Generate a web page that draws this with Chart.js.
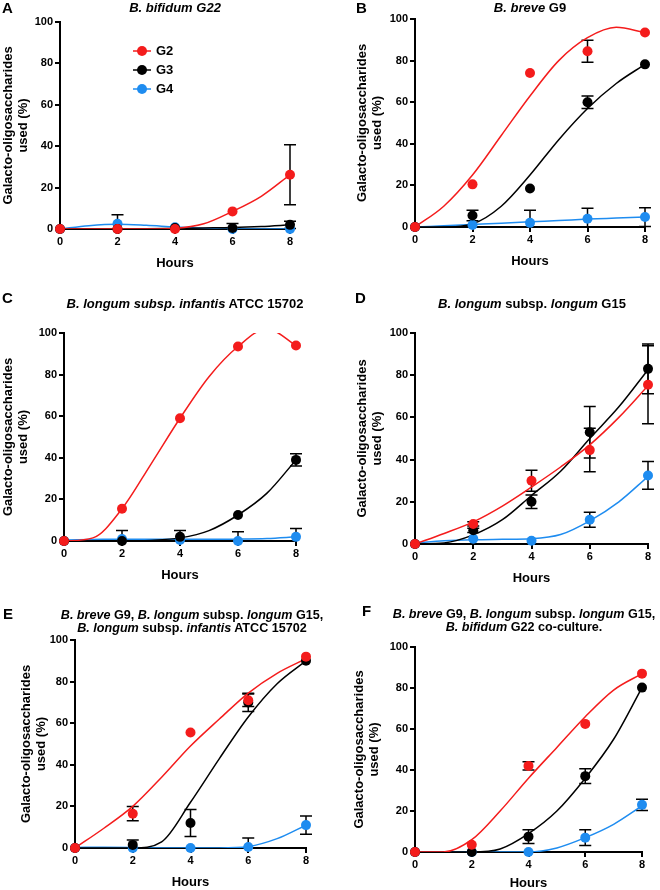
<!doctype html>
<html>
<head>
<title>Galacto-oligosaccharides used</title>
<script src="https://cdn.jsdelivr.net/npm/chart.js@4.4.0/dist/chart.umd.min.js"></script>
<style>
body { margin: 0; background: #fff; font-family: "Liberation Sans", Arial, sans-serif; }
#page { position: relative; width: 660px; height: 890px; overflow: hidden; }
canvas { position: absolute; }
.letter { position: absolute; font-weight: bold; font-size: 15px; line-height: 15px; }
.ttl { position: absolute; width: 320px; font-weight: bold; font-size: 13px; line-height: 13px; text-align: center; white-space: nowrap; }
.ttl.two { font-size: 12.6px; }
</style>
</head>
<body>
<div id="page">
	<canvas id="cA" width="330" height="285" style="left:0;top:0"></canvas>
	<canvas id="cB" width="330" height="285" style="left:330px;top:0"></canvas>
	<canvas id="cC" width="330" height="300" style="left:0;top:290px"></canvas>
	<canvas id="cD" width="330" height="300" style="left:330px;top:290px"></canvas>
	<canvas id="cE" width="330" height="300" style="left:0;top:590px"></canvas>
	<canvas id="cF" width="330" height="300" style="left:330px;top:590px"></canvas>

	<div class="letter" style="left:2px;top:0">A</div>
	<div class="letter" style="left:356px;top:0">B</div>
	<div class="letter" style="left:2px;top:290px">C</div>
	<div class="letter" style="left:355px;top:290px">D</div>
	<div class="letter" style="left:3px;top:606px">E</div>
	<div class="letter" style="left:362px;top:603px">F</div>

	<div class="ttl" style="left:15px;top:1px"><i>B. bifidum G22</i></div>
	<div class="ttl" style="left:370px;top:1px"><i>B. breve</i> G9</div>
	<div class="ttl" style="left:25px;top:297px"><i>B. longum subsp. infantis</i> ATCC 15702</div>
	<div class="ttl" style="left:372px;top:297px"><i>B. longum</i> subsp. <i>longum</i> G15</div>
	<div class="ttl two" style="left:32px;top:609px"><i>B. breve</i> G9, <i>B. longum</i> subsp. <i>longum</i> G15,<br><i>B. longum</i> subsp. <i>infantis</i> ATCC 15702</div>
	<div class="ttl two" style="left:364px;top:608px"><i>B. breve</i> G9, <i>B. longum</i> subsp. <i>longum</i> G15,<br><i>B. bifidum</i> G22 co-culture.</div>
</div>

<script>
var hours = [0, 2, 4, 6, 8];
var fitHours = [0, 1, 2, 3, 4, 5, 6, 7, 8];

// A - B. bifidum G22
var aG2 = [0, 0, 0, 8.5, 26.2];
var aG2Err = [0, 0, 0, 0, 14.5];
var aG3 = [0, 0, 0.5, 0.5, 2];
var aG3Err = [0, 0, 0, 2.1, 1.8];
var aG4 = [0, 2.5, 0.8, 0, 0];
var aG4Err = [0, 4.4, 0, 0, 0];
var aG2Fit = [0, 0, 0, 0, 0.3, 2.5, 8.5, 15.8, 26.2];
var aG3Fit = [0, 0, 0, 0.1, 0.3, 0.5, 0.7, 1.2, 2];
var aG4Fit = [0, 1.6, 2.3, 1.8, 1, 0.4, 0, 0, 0];

// B - B. breve G9
var bG2 = [0, 20.5, 74, 84.5, 93.5];
var bG2Err = [0, 0, 0, 5.3, 0];
var bG3 = [0, 5.5, 18.5, 60, 78.2];
var bG3Err = [0, 2.5, 0, 3, 0];
var bG4 = [0, 1, 2, 4, 4.8];
var bG4Err = [0, 0, 6, 5, 4.5];
var bG2Fit = [0, 10, 25, 44, 63, 80, 91, 96, 93.5];
var bG3Fit = [0, 0, 1.5, 10, 25, 42, 57, 69, 78.2];
var bG4Fit = [0, 0.6, 1.2, 1.8, 2.5, 3.1, 3.8, 4.3, 4.8];

// C - B. longum subsp. infantis ATCC 15702
var cG2 = [0, 15.5, 59, 93.5, 94];
var cG2Err = [0, 0, 0, 0, 0];
var cG3 = [0, 0, 2, 12.5, 39];
var cG3Err = [0, 0, 3, 0, 3];
var cG4 = [0, 1, 0.5, 0, 2];
var cG4Err = [0, 4, 0, 4.5, 4];
var cG2Fit = [0, 1.5, 15.5, 37, 59, 79, 93.5, 102, 94];
var cG3Fit = [0, 0, 0, 0.3, 1.5, 5, 12.5, 23, 39];
var cG4Fit = [0.5, 0.7, 0.9, 0.9, 0.8, 0.8, 0.9, 1.2, 2];

// D - B. longum subsp. longum G15
var dG2 = [0, 9.5, 30, 44.5, 75.5];
var dG2Err = [0, 1, 5, 10.3, 18.5];
var dG3 = [0, 6.5, 20, 53, 83];
var dG3Err = [0, 1, 3.2, 12.2, 11.8];
var dG4 = [0, 2.5, 1.5, 11.5, 32.5];
var dG4Err = [0, 0, 0, 3.6, 6.6];
var dG2Fit = [0, 5, 10.5, 18, 27, 36.5, 47, 60, 75];
var dG3Fit = [0, 0.5, 4.3, 11.5, 23, 34.5, 50, 65, 82.6];
var dG4Fit = [0.5, 1.5, 2, 2.2, 2.5, 4.5, 11, 20, 32];

// E - three strain mix
var eG2 = [0, 16.5, 55.5, 71, 92];
var eG2Err = [0, 3.4, 0, 3, 0];
var eG3 = [0, 1.5, 12, 70, 90];
var eG3Err = [0, 2.3, 6.5, 4.4, 0];
var eG4 = [0, 0, 0, 0.5, 11];
var eG4Err = [0, 0, 0, 4.3, 4.4];
var eG2Fit = [0, 9.5, 20, 34, 49, 62, 74.5, 84, 91];
var eG3Fit = [0, 0, 0, 3, 22, 43, 63, 79, 90];
var eG4Fit = [0.3, 0.4, 0.3, 0, 0, 0, 0.7, 4.5, 11];

// F - co-culture
var fG2 = [0, 3.5, 42, 62.5, 87];
var fG2Err = [0, 0, 2, 0, 0];
var fG3 = [0, 0, 7.5, 37, 80.2];
var fG3Err = [0, 0, 3.4, 3.6, 0];
var fG4 = [0, 0, 0, 7, 23];
var fG4Err = [0, 0, 0, 3.8, 2.7];
var fG2Fit = [0, 0, 6, 20, 36, 51, 66, 79, 87];
var fG3Fit = [0, 0, 0, 1.5, 9, 20, 36, 55, 80.2];
var fG4Fit = [0, 0, 0, 0, 0, 2, 7, 13.5, 22.5];

var seriesNames = ["G2", "G3", "G4"];
var yTicks = { min: 0, max: 100, step: 20 };
var xTicks = { min: 0, max: 8, step: 2 };

var RED = "#f41c1c", BLACK = "#000000", BLUE = "#1e8cf0";
var colors = [RED, BLACK, BLUE];
var FONT = '"Liberation Sans", Arial, sans-serif';

function pts(xs, ys) {
	return xs.map(function(x, i) { return { x: x, y: ys[i] }; });
}

// error bars drawn from the dataset values through the scales
var errorBars = {
	id: "errorBars",
	beforeDatasetsDraw: function(chart) {
		var ctx = chart.ctx, xs = chart.scales.x, ys = chart.scales.y;
		ctx.save();
		ctx.strokeStyle = "#000";
		ctx.lineWidth = 1.5;
		chart.data.datasets.forEach(function(ds) {
			if (!ds.errors) return;
			ds.data.forEach(function(p, i) {
				var e = ds.errors[i];
				if (!e) return;
				var px = xs.getPixelForValue(p.x);
				var lo = Math.max(p.y - e, 0);
				var top = ys.getPixelForValue(p.y + e);
				var bot = ys.getPixelForValue(lo);
				ctx.beginPath();
				ctx.moveTo(px, top); ctx.lineTo(px, bot);
				ctx.moveTo(px - 6, top); ctx.lineTo(px + 6, top);
				if (p.y - e > 0) { ctx.moveTo(px - 6, bot); ctx.lineTo(px + 6, bot); }
				ctx.stroke();
			});
		});
		ctx.restore();
	}
};

var insideLegend = {
	id: "insideLegend",
	afterDraw: function(chart) {
		if (!chart.options.plugins.insideLegend.show) return;
		var ctx = chart.ctx;
		ctx.save();
		ctx.font = "bold 13px " + FONT;
		ctx.textBaseline = "middle";
		seriesNames.forEach(function(n, i) {
			var y = 51 + i * 19;
			ctx.strokeStyle = colors[i];
			ctx.lineWidth = 1.5;
			ctx.beginPath(); ctx.moveTo(133, y); ctx.lineTo(151, y); ctx.stroke();
			ctx.fillStyle = colors[i];
			ctx.beginPath(); ctx.arc(142, y, 5, 0, Math.PI * 2); ctx.fill();
			ctx.fillStyle = "#000";
			ctx.fillText(n, 156, y + 0.5);
		});
		ctx.restore();
	}
};

function axisCommon() {
	return {
		grid: { drawOnChartArea: false, drawTicks: true, tickLength: 5, color: "#000", lineWidth: 2 },
		border: { color: "#000", width: 2 }
	};
}

function panel(id, area, xh, yTitleX, vals, errs, fits, legend) {
	var cv = document.getElementById(id);
	var W = cv.width, H = cv.height;
	var datasets = [];
	vals.forEach(function(v, i) {
		datasets.push({
			type: "scatter", label: seriesNames[i], data: pts(hours, v), errors: errs[i],
			backgroundColor: colors[i], borderWidth: 0, pointRadius: 5, pointHoverRadius: 5,
			showLine: false, clip: false, order: i
		});
	});
	fits.forEach(function(f, i) {
		datasets.push({
			type: "line", label: seriesNames[i] + " fit", data: pts(fitHours, f),
			borderColor: colors[i], borderWidth: 1.5, pointRadius: 0, fill: false,
			cubicInterpolationMode: "monotone", order: 3 + i
		});
	});
	var x = axisCommon(), y = axisCommon();
	x.type = "linear"; x.min = xTicks.min; x.max = xTicks.max;
	x.ticks = { stepSize: xTicks.step, color: "#000", padding: 1, maxRotation: 0, font: { family: FONT, size: 11, weight: "bold" } };
	x.title = { display: true, text: "Hours", color: "#000", padding: 0, font: { family: FONT, size: 13, weight: "bold", lineHeight: 1 } };
	x.afterFit = function(s) { s.height = xh; };
	y.type = "linear"; y.min = yTicks.min; y.max = yTicks.max;
	y.ticks = { stepSize: yTicks.step, color: "#000", padding: 2, font: { family: FONT, size: 11, weight: "bold" } };
	y.title = { display: true, text: ["Galacto-oligosaccharides", "used (%)"], color: "#000",
		padding: { top: yTitleX - 7.5, bottom: 0 }, font: { family: FONT, size: 13, weight: "bold", lineHeight: 1.15 } };
	y.afterFit = function(s) { s.width = area.l; };

	return new Chart(cv.getContext("2d"), {
		type: "scatter",
		data: { datasets: datasets },
		options: {
			responsive: false,
			animation: false,
			events: [],
			layout: { autoPadding: false, padding: { left: 0, top: area.t, right: W - area.r, bottom: H - area.b - xh } },
			scales: { x: x, y: y },
			plugins: { legend: { display: false }, tooltip: { enabled: false }, insideLegend: { show: !!legend } }
		},
		plugins: [errorBars, insideLegend]
	});
}

panel("cA", { l: 60, t: 22, r: 290, b: 229 }, 40.5, 8,
	[aG2, aG3, aG4], [aG2Err, aG3Err, aG4Err], [aG2Fit, aG3Fit, aG4Fit], true);
panel("cB", { l: 85, t: 19, r: 315, b: 227 }, 40.5, 32,
	[bG2, bG3, bG4], [bG2Err, bG3Err, bG4Err], [bG2Fit, bG3Fit, bG4Fit]);
panel("cC", { l: 64, t: 43, r: 296, b: 251 }, 40.5, 8,
	[cG2, cG3, cG4], [cG2Err, cG3Err, cG4Err], [cG2Fit, cG3Fit, cG4Fit]);
panel("cD", { l: 85, t: 43, r: 318, b: 254 }, 40.5, 32,
	[dG2, dG3, dG4], [dG2Err, dG3Err, dG4Err], [dG2Fit, dG3Fit, dG4Fit]);
panel("cE", { l: 75, t: 50, r: 306, b: 258 }, 40.5, 26,
	[eG2, eG3, eG4], [eG2Err, eG3Err, eG4Err], [eG2Fit, eG3Fit, eG4Fit]);
panel("cF", { l: 85, t: 57, r: 312, b: 262 }, 38, 29,
	[fG2, fG3, fG4], [fG2Err, fG3Err, fG4Err], [fG2Fit, fG3Fit, fG4Fit]);
</script>
</body>
</html>
